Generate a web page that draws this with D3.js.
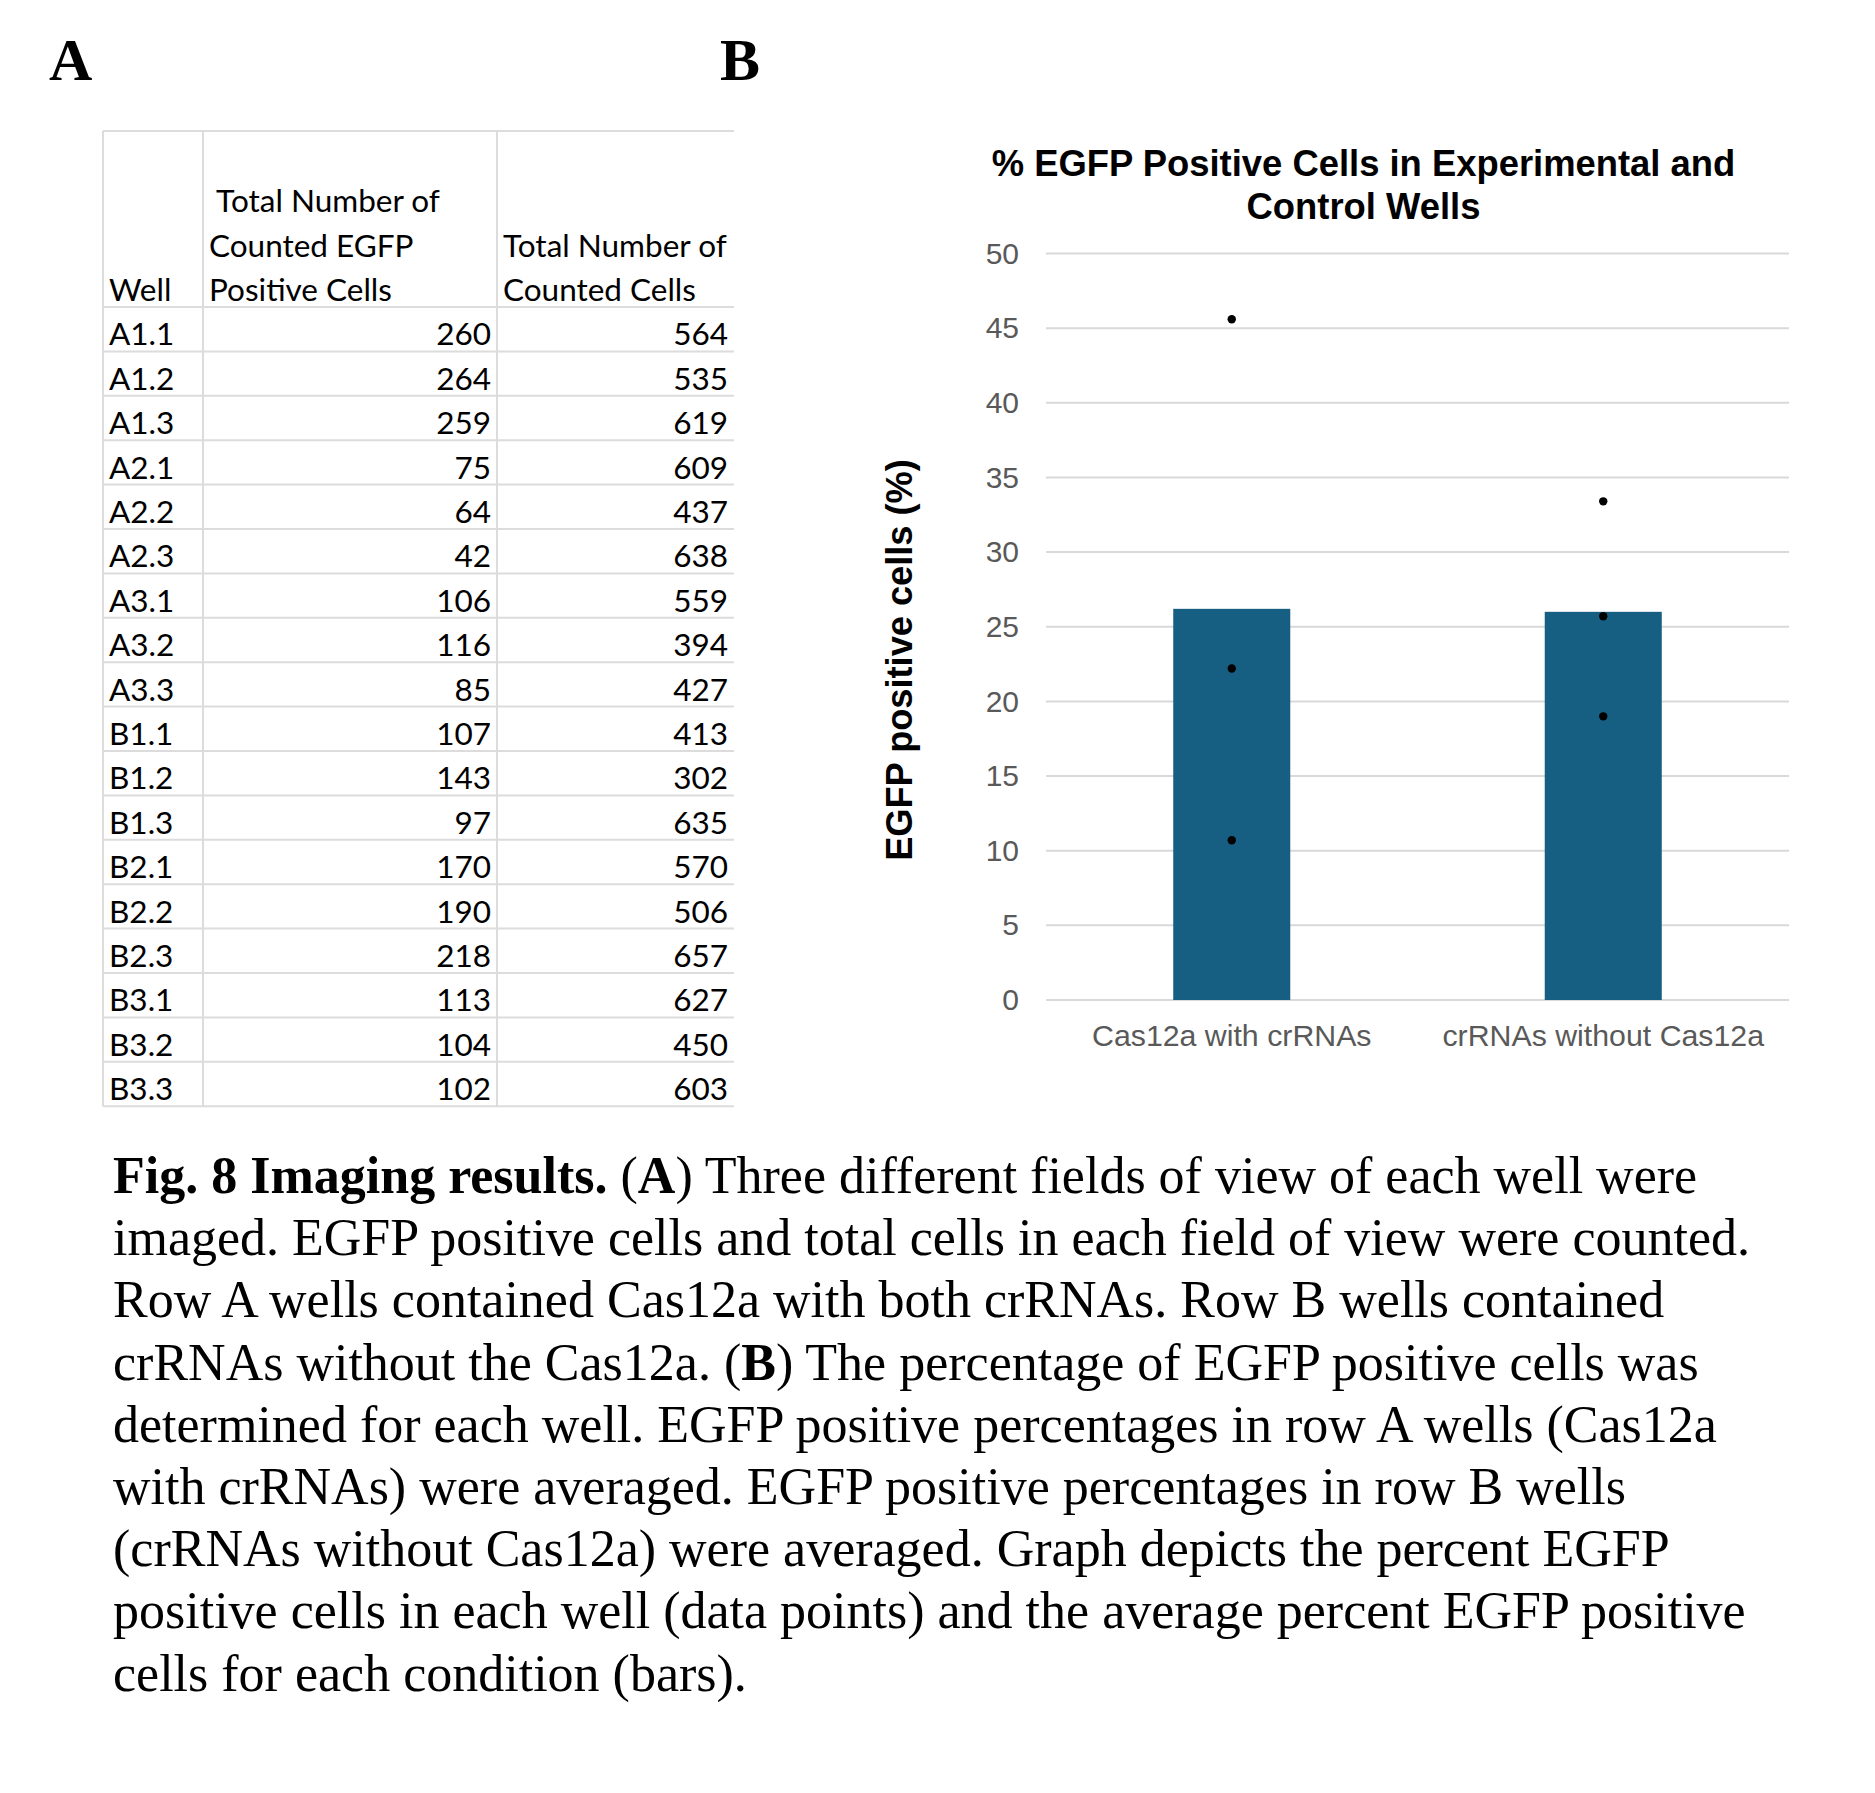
<!DOCTYPE html>
<html>
<head>
<meta charset="utf-8">
<script src="https://cdn.jsdelivr.net/npm/d3@7"></script>
<style>
  html, body { margin: 0; padding: 0; background: #ffffff; }
  svg { display: block; }
</style>
</head>
<body>
<script>
// ---------------- DATA ----------------
const wells = ["A1.1","A1.2","A1.3","A2.1","A2.2","A2.3","A3.1","A3.2","A3.3",
               "B1.1","B1.2","B1.3","B2.1","B2.2","B2.3","B3.1","B3.2","B3.3"];
const egfpCounts  = [260,264,259,75,64,42,106,116,85,107,143,97,170,190,218,113,104,102];
const totalCounts = [564,535,619,609,437,638,559,394,427,413,302,635,570,506,657,627,450,603];
const headerWell  = ["Well"];
const headerEgfp  = [" Total Number of", "Counted EGFP", "Positive Cells"];
const headerTotal = ["Total Number of", "Counted Cells"];

const conditions   = ["Cas12a with crRNAs", "crRNAs without Cas12a"];
const barMeans     = [26.2, 26.0];
const wellPercents = [[45.6, 10.7, 22.2], [25.7, 33.4, 19.0]];
const yTicks       = [0, 5, 10, 15, 20, 25, 30, 35, 40, 45, 50];
const chartTitle   = ["% EGFP Positive Cells in Experimental and", "Control Wells"];
const yTitle       = "EGFP positive cells (%)";

const captionLines = [
  [["Fig. 8 Imaging results.", true], [" (", false], ["A", true], [") Three different fields of view of each well were", false]],
  [["imaged. EGFP positive cells and total cells in each field of view were counted.", false]],
  [["Row A wells contained Cas12a with both crRNAs. Row B wells contained", false]],
  [["crRNAs without the Cas12a. (", false], ["B", true], [") The percentage of EGFP positive cells was", false]],
  [["determined for each well. EGFP positive percentages in row A wells (Cas12a", false]],
  [["with crRNAs) were averaged. EGFP positive percentages in row B wells", false]],
  [["(crRNAs without Cas12a) were averaged. Graph depicts the percent EGFP", false]],
  [["positive cells in each well (data points) and the average percent EGFP positive", false]],
  [["cells for each condition (bars).", false]]
];

// ---------------- SVG ----------------
const W = 1875, H = 1793;
const svg = d3.select("body").append("svg").attr("width", W).attr("height", H);
svg.append("rect").attr("width", W).attr("height", H).attr("fill", "#ffffff");

const serif = "'Liberation Serif', 'Times New Roman', serif";
const sans  = "'Liberation Sans', Arial, sans-serif";
const tableFont = "Lato, 'Open Sans', sans-serif";

// Panel letters
svg.append("text").attr("x", 49).attr("y", 80).text("A")
  .attr("font-family", serif).attr("font-weight", "bold").attr("font-size", 60).attr("fill", "#000");
svg.append("text").attr("x", 720).attr("y", 80).text("B")
  .attr("font-family", serif).attr("font-weight", "bold").attr("font-size", 60).attr("fill", "#000");

// ---------------- TABLE ----------------
const tbl = svg.append("g");
const tLeft = 103, tRight = 734, tTop = 131;
const colX = [103, 203, 497];
const headerBottom = 307;
const rowH = 44.4;
const rowY = d3.scaleLinear().domain([0, wells.length]).range([headerBottom, headerBottom + rowH * wells.length]);
const gridColor = "#dcdcdc";

// horizontal lines
const hLines = [tTop].concat(d3.range(wells.length + 1).map(i => rowY(i)));
tbl.selectAll("line.h").data(hLines).join("line")
  .attr("x1", tLeft).attr("x2", tRight).attr("y1", d => d).attr("y2", d => d)
  .attr("stroke", gridColor).attr("stroke-width", 2);
// vertical lines
tbl.selectAll("line.v").data(colX).join("line")
  .attr("x1", d => d).attr("x2", d => d).attr("y1", tTop).attr("y2", rowY(wells.length))
  .attr("stroke", gridColor).attr("stroke-width", 2);

const tFS = 31.5;
const baseOff = rowH - 6; // baseline offset within a row
function headerText(lines, x, anchor) {
  lines.forEach((t, i) => {
    tbl.append("text")
      .attr("x", x).attr("y", headerBottom - 6 - (lines.length - 1 - i) * rowH)
      .attr("text-anchor", anchor).attr("font-family", tableFont).attr("font-size", tFS)
      .attr("fill", "#000").attr("xml:space", "preserve").style("white-space", "pre").text(t);
  });
}
headerText(headerWell, colX[0] + 6, "start");
headerText(headerEgfp, colX[1] + 6, "start");
headerText(headerTotal, colX[2] + 6, "start");

const rows = tbl.selectAll("g.row").data(wells.map((w, i) => ({w, e: egfpCounts[i], t: totalCounts[i], i})))
  .join("g");
rows.append("text").attr("x", colX[0] + 6).attr("y", d => rowY(d.i) + baseOff)
  .attr("font-family", tableFont).attr("font-size", tFS).attr("fill", "#000").text(d => d.w);
rows.append("text").attr("x", colX[2] - 6).attr("y", d => rowY(d.i) + baseOff).attr("text-anchor", "end")
  .attr("font-family", tableFont).attr("font-size", tFS).attr("fill", "#000").text(d => d.e);
rows.append("text").attr("x", tRight - 6).attr("y", d => rowY(d.i) + baseOff).attr("text-anchor", "end")
  .attr("font-family", tableFont).attr("font-size", tFS).attr("fill", "#000").text(d => d.t);

// ---------------- CHART ----------------
const plotL = 1046, plotR = 1789, plotT = 253.5, plotB = 1000;
const y = d3.scaleLinear().domain([0, 50]).range([plotB, plotT]);
const x = d3.scaleBand().domain(conditions).range([plotL, plotR]).padding(0);
const barW = x.bandwidth() * 0.315;
const chart = svg.append("g");

// gridlines
chart.selectAll("line.grid").data(yTicks).join("line")
  .attr("x1", plotL).attr("x2", plotR).attr("y1", d => y(d)).attr("y2", d => y(d))
  .attr("stroke", "#d9d9d9").attr("stroke-width", 2);

// y axis labels via d3 axis
const yAxis = chart.append("g").attr("transform", `translate(${plotL},0)`)
  .call(d3.axisLeft(y).tickValues(yTicks).tickSize(0).tickPadding(27));
yAxis.select(".domain").remove();
yAxis.selectAll("text").attr("font-family", sans).attr("font-size", 30).attr("fill", "#595959");

// x axis labels
const xAxis = chart.append("g").attr("transform", `translate(0,${plotB})`)
  .call(d3.axisBottom(x).tickSize(0).tickPadding(24));
xAxis.select(".domain").remove();
xAxis.selectAll("text").attr("font-family", sans).attr("font-size", 30.3).attr("fill", "#595959");

// bars
chart.selectAll("rect.bar").data(conditions).join("rect")
  .attr("x", d => x(d) + x.bandwidth() / 2 - barW / 2)
  .attr("width", barW)
  .attr("y", (d, i) => y(barMeans[i]))
  .attr("height", (d, i) => y(0) - y(barMeans[i]))
  .attr("fill", "#165f82");

// dots
const dots = [];
conditions.forEach((c, i) => wellPercents[i].forEach(v => dots.push({c, v})));
chart.selectAll("circle.dot").data(dots).join("circle")
  .attr("cx", d => x(d.c) + x.bandwidth() / 2).attr("cy", d => y(d.v)).attr("r", 4.2)
  .attr("fill", "#000");

// title
chartTitle.forEach((t, i) => {
  chart.append("text").attr("x", (plotL + plotR) / 2 - 54).attr("y", 176 + i * 43)
    .attr("text-anchor", "middle").attr("font-family", sans).attr("font-weight", "bold")
    .attr("font-size", 36.4).attr("fill", "#000").text(t);
});

// y title
chart.append("text").attr("transform", "translate(912,660) rotate(-90)")
  .attr("text-anchor", "middle").attr("font-family", sans).attr("font-weight", "bold")
  .attr("font-size", 36.2).attr("fill", "#000").text(yTitle);

// ---------------- CAPTION ----------------
const capG = svg.append("g");
const capY0 = 1193, capDY = 62.2;
captionLines.forEach((segs, i) => {
  const t = capG.append("text").attr("x", 113).attr("y", capY0 + i * capDY)
    .attr("font-family", serif).attr("font-size", 52).attr("fill", "#000")
    .attr("xml:space", "preserve").style("white-space", "pre");
  segs.forEach(([s, b]) => t.append("tspan").attr("font-weight", b ? "bold" : "normal").text(s));
});
</script>
</body>
</html>
